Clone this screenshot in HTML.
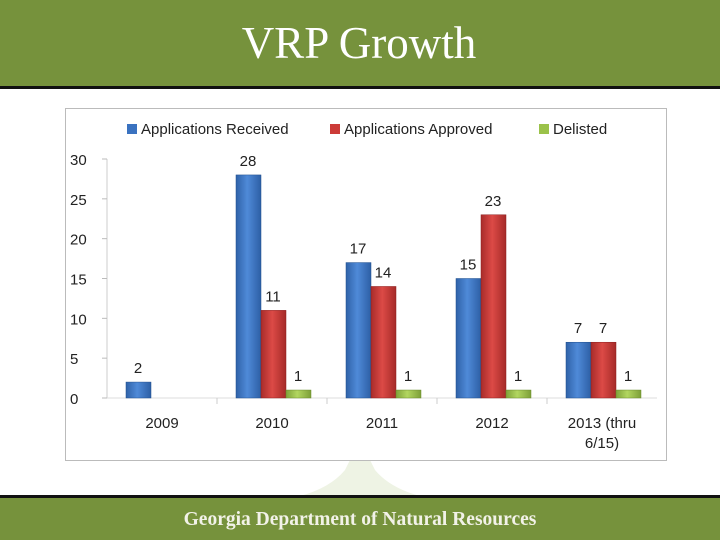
<!DOCTYPE html>
<html><head><meta charset="utf-8"><style>
body{margin:0;width:720px;height:540px;overflow:hidden;background:#fff;font-family:"Liberation Sans",sans-serif}
</style></head><body>
<svg width="720" height="540" xmlns="http://www.w3.org/2000/svg">
<defs>
<linearGradient id="gb" x1="0" x2="1"><stop offset="0" stop-color="#2f62a8"/><stop offset="0.45" stop-color="#4f8ad8"/><stop offset="1" stop-color="#2d5fa5"/></linearGradient>
<linearGradient id="gr" x1="0" x2="1"><stop offset="0" stop-color="#a82c2a"/><stop offset="0.45" stop-color="#dc4a46"/><stop offset="1" stop-color="#a52a28"/></linearGradient>
<linearGradient id="gg" x1="0" x2="1"><stop offset="0" stop-color="#7fa23a"/><stop offset="0.45" stop-color="#b2d660"/><stop offset="1" stop-color="#7c9f38"/></linearGradient>
</defs>
<rect x="0" y="0" width="720" height="86" fill="#76923c"/>
<rect x="0" y="86" width="720" height="3" fill="#111"/>
<text x="359" y="58" text-anchor="middle" font-family="Liberation Serif, serif" font-size="45" fill="#fff">VRP Growth</text>
<path d="M350 460 L345 470 Q330 488 300 496 L420 496 Q390 488 375 470 L370 460 Z" fill="#eef3e4"/>
<rect x="0" y="495" width="720" height="3" fill="#111"/>
<rect x="0" y="498" width="720" height="42" fill="#76923c"/>
<text x="360" y="525" text-anchor="middle" font-family="Liberation Serif, serif" font-weight="bold" font-size="19.5" fill="#f2f2e8">Georgia Department of Natural Resources</text>
<rect x="65.5" y="108.5" width="601" height="352" fill="#fff" stroke="#bbb"/>
<g id="legend"></g>
<g id="plot"></g>
</svg>
<script>
const categories=["2009","2010","2011","2012","2013 (thru|6/15)"];
const received=[2,28,17,15,7];
const approved=[0,11,14,23,7];
const delisted=[0,1,1,1,1];
const yTicks=[0,5,10,15,20,25,30];
const NS="http://www.w3.org/2000/svg";
const x0=107,catW=110,y0=398,yMax=30,yTop=159;
const y=v=>y0-(v/yMax)*(y0-yTop);
const xc=i=>x0+i*catW;
const plot=document.getElementById('plot'),legend=document.getElementById('legend');
function mk(tag,attrs,parent){const e=document.createElementNS(NS,tag);for(const k in attrs)e.setAttribute(k,attrs[k]);parent.appendChild(e);return e;}
let ax=mk('line',{x1:x0,y1:159,x2:x0,y2:y0,stroke:'#ccc'},plot);


let bx=mk('line',{x1:x0,y1:y0,x2:x0+5*catW,y2:y0,stroke:'#ddd'},plot);


yTicks.forEach(t=>{
 const tk=mk('line',{x1:x0-5,x2:x0,y1:y(t),y2:y(t),stroke:'#bbb'},plot);
 
 
 const tl=mk('text',{x:70,y:y(t)+6,'font-size':15,fill:'#222'},plot);
 tl.textContent=t;
 
 
});
for(let i=1;i<5;i++){const s=mk('line',{x1:xc(i),x2:xc(i),y1:y0,y2:y0+6,stroke:'#ccc'},plot);
 
 }
const series=[[received,'url(#gb)','#1f4e8c','received'],[approved,'url(#gr)','#8c1f1f','approved'],[delisted,'url(#gg)','#6a8a2a','delisted']];
categories.forEach((c,i)=>{
 const lines=c.split('|');
 lines.forEach((ln,j)=>{const t=mk('text',{x:xc(i)+catW/2,y:428+j*20,'text-anchor':'middle','font-size':15,fill:'#222'},plot);
  t.textContent=ln;
  
  });
 series.forEach((s,k)=>{
  const v=s[0][i]; if(!v) return;
  const bxp=xc(i)+19+k*25;
  const r=mk('rect',{x:bxp,y:y(v),width:25,height:y0-y(v),fill:s[1],stroke:s[2],'stroke-width':0.5},plot);
  
  
  const l=mk('text',{x:bxp+12,y:y(v)-9,'text-anchor':'middle','font-size':15,fill:'#222'},plot);
  l.textContent=v;
  
  
 });
});
const leg=[['Applications Received','#3a72c0',127],['Applications Approved','#cc3b38',330],['Delisted','#9bc24a',539]];
leg.forEach(L=>{
 const sw=mk('rect',{x:L[2],y:124,width:10,height:10,fill:L[1]},legend);
 
 
 const t=mk('text',{x:L[2]+14,y:134,'font-size':15,fill:'#222'},legend);
 t.textContent=L[0];
 
 
});
</script>
</body></html>
